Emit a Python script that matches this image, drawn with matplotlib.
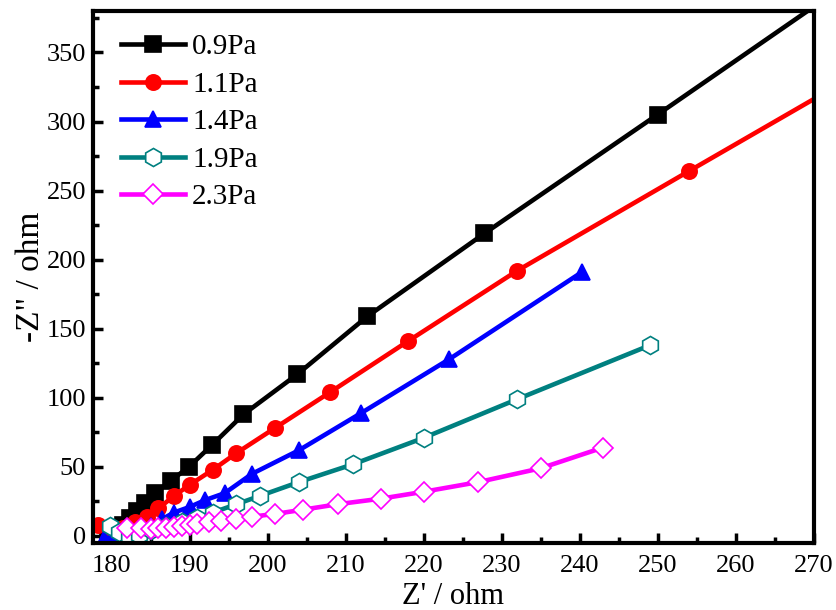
"""
Nyquist plot (EIS) for films deposited at different working pressures.
"""

import matplotlib
matplotlib.use("Agg")
import matplotlib.pyplot as plt
from matplotlib.ticker import MultipleLocator

# ---- data ----
LABELS = ["0.9Pa", "1.1Pa", "1.4Pa", "1.9Pa", "2.3Pa"]
COLORS = ["#000000", "#ff0000", "#0000ff", "#008080", "#ff00ff"]
MARKERS = ["s", "o", "^", "h", "D"]
MSIZES = [11, 11, 12, 13, 10]
FILLED = [True, True, True, False, False]

x_09 = [179.5, 180.5, 181.5, 182.3, 183.2, 184.3, 185.5, 187.6, 189.9, 192.9,
        196.9, 203.8, 212.8, 227.8, 250.0, 280.0]
y_09 = [1, 4, 8, 13, 18, 24, 31, 40, 50, 66, 88, 117, 159, 219, 305, 422]

x_11 = [178.3, 180.0, 181.5, 183.0, 184.5, 186.0, 188.0, 190.0, 193.0, 196.0,
        200.9, 208.0, 218.0, 232.0, 254.0, 285.0]
y_11 = [8, 4, 6, 10, 14, 20, 29, 37, 48, 60, 78, 104, 141, 192, 264, 365]

x_14 = [179.0, 180.5, 182.0, 183.5, 185.0, 186.4, 188.0, 190.0, 192.0, 194.5,
        198.0, 204.0, 212.0, 223.3, 240.3]
y_14 = [-2, 0, 2, 4, 7, 12, 17, 21, 26, 31, 45, 62, 89, 128, 191]

x_19 = [179.8, 181.0, 182.2, 183.5, 185.0, 187.0, 189.0, 191.0, 193.0, 196.0,
        199.0, 204.0, 211.0, 220.0, 232.0, 249.0]
y_19 = [7, 3, 0, 1, 4, 7, 10, 13, 17, 23, 29, 39, 52, 71, 99, 138]

x_23 = [182.0, 183.8, 185.0, 186.0, 187.0, 188.0, 189.0, 190.0, 191.0, 192.5,
        194.0, 196.0, 198.0, 201.0, 204.5, 209.0, 214.5, 220.0, 227.0, 235.0,
        243.0]
y_23 = [6, 6, 5, 5.5, 6, 6.5, 7, 8, 9, 10, 11, 12, 14, 16, 19, 23, 27, 32,
        39, 49, 64]

SERIES = [(x_09, y_09), (x_11, y_11), (x_14, y_14), (x_19, y_19), (x_23, y_23)]

X_TICKS = list(range(180, 271, 10))
Y_TICKS = list(range(0, 351, 50))

plt.rcParams["font.family"] = ["Liberation Serif", "DejaVu Serif"]

fig = plt.figure(figsize=(8.37, 6.10), dpi=100)
ax = fig.add_axes([0.111, 0.110, 0.861, 0.872])

for (xs, ys), lab, col, mk, ms, filled in zip(SERIES, LABELS, COLORS, MARKERS,
                                              MSIZES, FILLED):
    ax.plot(xs, ys, color=col, linewidth=3.3, marker=mk, markersize=ms,
            markerfacecolor=col if filled else "white",
            markeredgecolor=col, markeredgewidth=1.2, label=lab)

ax.set_xlim(177.6, 270)
ax.set_ylim(-5, 380)
ax.set_xticks(X_TICKS)
ax.set_yticks(Y_TICKS)
ax.xaxis.set_minor_locator(MultipleLocator(5))
ax.yaxis.set_minor_locator(MultipleLocator(25))

ax.tick_params(which="both", direction="in", width=2.5, labelsize=19,
               top=False, right=False)
ax.tick_params(which="major", length=7)
ax.tick_params(which="minor", length=4)
ax.tick_params(axis="x", pad=9)
ax.tick_params(axis="y", pad=5)
for sp in ax.spines.values():
    sp.set_linewidth(3)

ax.set_xlabel("Z' / ohm", fontsize=22)
ax.xaxis.set_label_coords(0.5, -0.073)
ax.set_ylabel('-Z" / ohm', fontsize=24, labelpad=0)

ax.legend(loc="upper left", frameon=False, fontsize=21, handlelength=2.2,
          handletextpad=0.25, labelspacing=0.38, borderaxespad=0.3,
          bbox_to_anchor=(0.01, 0.995))

plt.savefig("out.png", dpi=100)
plt.close()
